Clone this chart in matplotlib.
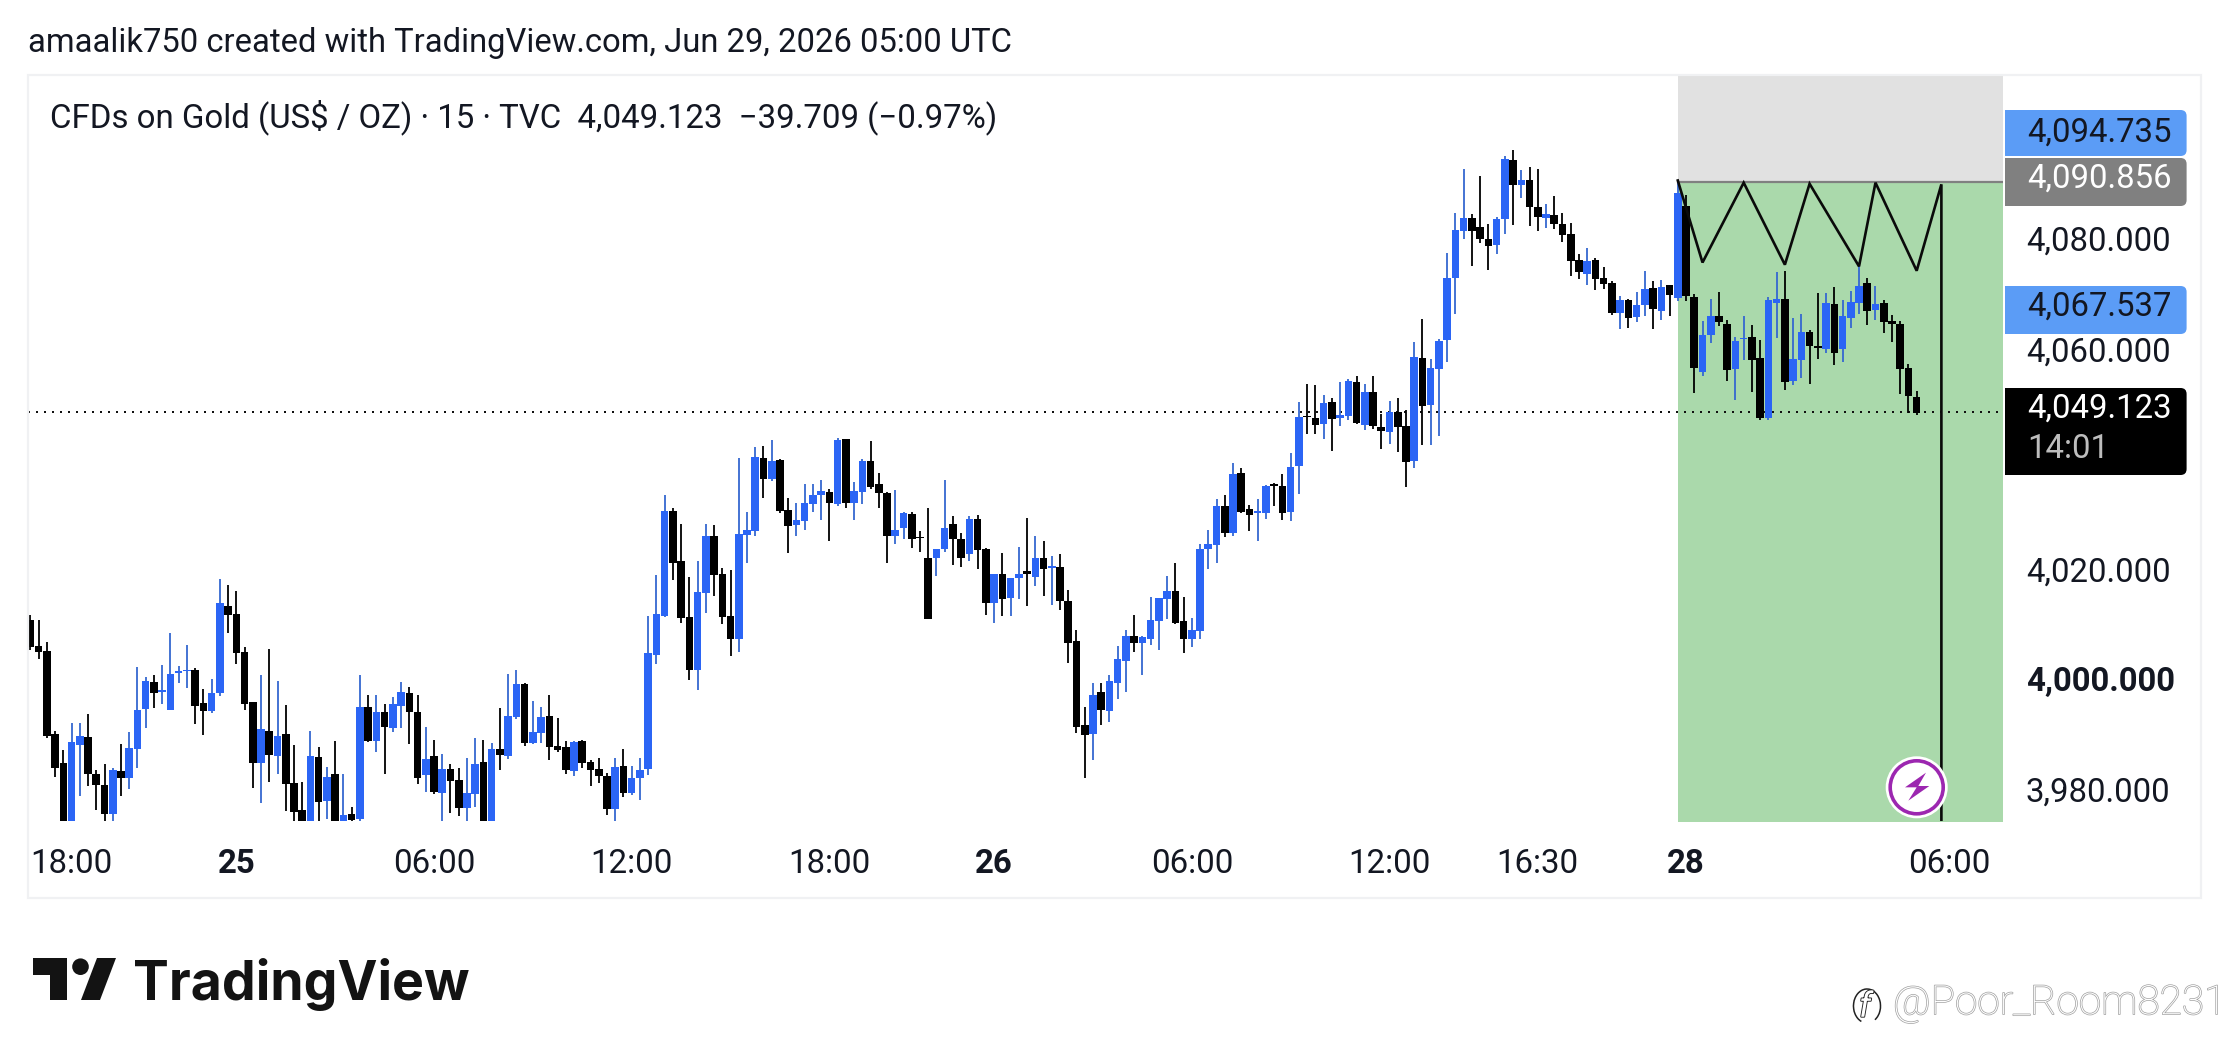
#!/usr/bin/env python3
"""TradingView snapshot of CFDs on Gold, 15 min candles, with a drawn range box."""
import matplotlib
matplotlib.use("Agg")
import matplotlib.pyplot as plt
import numpy as np
from matplotlib.patches import Arc, Circle, FancyBboxPatch, Polygon, Rectangle
from matplotlib.transforms import ScaledTranslation
import matplotlib.patheffects as pe

plt.rcParams["font.family"] = ["Roboto", "DejaVu Sans"]

W, H = 2229, 1063
BLUE = "#2B65F5"
BLUE_WICK = "#3568D0"
BLACK = "#000000"

# u = up (blue), d = down (black), 10 candles per chunk
DIRECTION = (
    "ddddduuddd" "uduuuduuuu" "dduuddddud" "udddududud" "ududuuddud"
    "udduududuu" "duuddduddd" "duduuuuudd" "duuddduuud" "udduuuudud"
    "uuddduuddd" "uudduddudu" "udududdddu" "duuuduuuud" "duuuududdu"
    "udduuddudu" "ududduddud" "uuuuuddduu" "dudduddddu" "ddduduudud"
    "udduudduud" "duuduuddud" "uuududdddd"
)

HIGHS = [
    4012.2, 4011.3, 4007.2, 3991.1, 3987.7, 3992.6, 3992.6, 3994.2, 3984.1, 3985.1,
    3984.3, 3988.7, 3990.9, 4002.7, 4000.9, 4001.3, 4003.1, 4008.9, 4002.9, 4006.7,
    4002.6, 3998.7, 4000.6, 4018.7, 4017.7, 4016.6, 4006.4, 3996.4, 4001.3, 4006.0,
    4000.2, 3995.8, 3988.6, 3981.8, 3991.1, 3988.2, 3984.6, 3989.3, 3983.3, 3977.3,
    4001.3, 3997.7, 3997.7, 3996.0, 3997.3, 4000.0, 3999.1, 3997.7, 3991.8, 3989.5,
    3986.9, 3985.1, 3984.4, 3986.2, 3989.8, 3989.5, 3988.9, 3995.3, 4001.5, 4002.2,
    3999.8, 3996.6, 3995.5, 3997.7, 3993.5, 3989.3, 3989.3, 3989.5, 3985.8, 3986.2,
    3983.5, 3986.2, 3987.8, 3984.7, 3986.2, 4012.0, 4019.5, 4033.9, 4031.6, 4028.7,
    4019.0, 4021.9, 4028.7, 4028.5, 4020.7, 4020.3, 4040.7, 4030.8, 4042.7, 4042.8,
    4043.9, 4040.5, 4033.4, 4032.5, 4035.9, 4035.9, 4036.7, 4035.1, 4044.3, 4044.1,
    4036.3, 4040.5, 4043.7, 4037.9, 4034.5, 4034.8, 4030.8, 4030.8, 4027.4, 4031.6,
    4024.1, 4036.7, 4030.1, 4027.0, 4030.1, 4030.3, 4024.3, 4019.7, 4023.4, 4018.8,
    4024.5, 4029.7, 4026.5, 4025.7, 4022.8, 4023.2, 4016.7, 4009.4, 3995.4, 3999.9,
    3999.9, 4001.2, 4006.5, 4009.4, 4012.1, 4008.3, 4015.4, 4015.2, 4019.2, 4021.6,
    4015.4, 4011.7, 4025.0, 4027.7, 4033.2, 4033.9, 4039.7, 4038.8, 4032.1, 4033.2,
    4035.7, 4036.1, 4037.7, 4041.6, 4050.9, 4054.1, 4054.0, 4052.1, 4051.6, 4054.5,
    4055.0, 4055.6, 4054.1, 4055.6, 4048.7, 4051.0, 4051.6, 4049.4, 4061.8, 4066.0,
    4058.7, 4062.3, 4078.0, 4085.2, 4093.2, 4085.0, 4092.0, 4083.2, 4084.5, 4095.6,
    4096.7, 4093.0, 4093.6, 4093.2, 4086.9, 4088.3, 4085.2, 4083.4, 4077.8, 4078.9,
    4077.0, 4075.4, 4072.9, 4070.1, 4069.6, 4070.9, 4074.7, 4072.9, 4073.0, 4072.1,
    4091.2, 4088.5, 4070.5, 4065.6, 4069.6, 4070.9, 4065.8, 4062.7, 4066.4, 4064.9,
    4062.2, 4070.0, 4074.4, 4074.7, 4066.2, 4066.9, 4064.0, 4070.7, 4070.7, 4071.8,
    4069.4, 4071.1, 4075.8, 4073.4, 4072.0, 4069.4, 4066.7, 4065.5, 4057.8, 4052.9,
]

LOWS = [
    4005.8, 4004.2, 3989.9, 3982.8, 3974, 3974, 3979.2, 3981.1, 3976.8, 3974,
    3974, 3979.3, 3980.6, 3984.4, 3991.7, 3995.3, 3996.0, 3994.9, 3999.8, 3998.9,
    3992.4, 3990.4, 3994.4, 3997.5, 4008.9, 4003.3, 3994.9, 3980.7, 3978.0, 3981.8,
    3983.3, 3976.6, 3974, 3974, 3974, 3974, 3975.1, 3974, 3974, 3974.7,
    3974.8, 3989.1, 3987.3, 3983.3, 3990.9, 3991.7, 3988.7, 3981.5, 3980.0, 3979.7,
    3974, 3976.2, 3975.7, 3974, 3977.3, 3974, 3974, 3984.0, 3986.0, 3993.3,
    3988.4, 3988.7, 3988.9, 3985.8, 3987.3, 3983.3, 3982.9, 3984.4, 3981.1, 3981.7,
    3975.8, 3974, 3979.1, 3979.5, 3978.6, 3983.1, 4003.3, 4011.8, 4018.5, 4010.7,
    4000.3, 3998.5, 4012.5, 4015.6, 4010.5, 4004.7, 4005.4, 4021.6, 4026.5, 4033.4,
    4036.5, 4030.7, 4023.4, 4026.5, 4027.6, 4030.8, 4029.4, 4025.7, 4031.9, 4031.6,
    4029.4, 4032.3, 4035.0, 4031.6, 4021.6, 4025.0, 4025.9, 4024.3, 4023.7, 4011.4,
    4019.2, 4023.7, 4021.2, 4020.8, 4021.9, 4020.5, 4012.1, 4010.8, 4011.9, 4011.9,
    4015.0, 4013.8, 4017.4, 4015.7, 4013.9, 4013.0, 4003.4, 3990.7, 3982.5, 3985.9,
    3992.1, 3992.7, 3997.0, 3998.1, 4005.4, 4001.2, 4006.7, 4005.9, 4011.4, 4010.5,
    4005.2, 4006.3, 4007.9, 4020.5, 4021.6, 4026.3, 4026.5, 4030.7, 4027.4, 4025.6,
    4029.6, 4031.9, 4029.4, 4029.2, 4034.1, 4045.0, 4045.0, 4044.1, 4042.0, 4046.5,
    4047.6, 4046.9, 4045.8, 4046.0, 4042.3, 4043.2, 4041.8, 4035.4, 4038.9, 4043.0,
    4043.0, 4044.7, 4058.1, 4066.9, 4080.5, 4075.6, 4079.8, 4074.9, 4077.8, 4081.4,
    4083.0, 4088.0, 4082.9, 4082.0, 4082.5, 4082.3, 4080.0, 4073.8, 4073.2, 4072.1,
    4071.2, 4071.4, 4066.7, 4064.1, 4064.3, 4065.4, 4066.5, 4064.1, 4065.8, 4066.5,
    4069.2, 4069.2, 4052.5, 4055.6, 4061.6, 4064.7, 4054.7, 4051.3, 4058.5, 4052.7,
    4047.6, 4047.6, 4062.4, 4053.1, 4054.0, 4055.3, 4054.2, 4058.7, 4059.8, 4057.6,
    4058.2, 4064.3, 4066.9, 4064.9, 4065.8, 4063.4, 4061.8, 4052.4, 4048.9, 4048.5,
]

BODY_TOP = [
    4011.2, 4006.6, 4005.7, 3990.6, 3985.3, 3989.1, 3990.2, 3990.0, 3983.3, 3981.3,
    3984.0, 3983.8, 3988.0, 3994.9, 4000.2, 4000.0, 3998.5, 4001.5, 4002.0, 4002.2,
    4002.2, 3996.2, 3998.0, 4014.4, 4013.8, 4012.4, 4005.5, 3996.4, 3991.5, 3991.1,
    3990.2, 3990.6, 3981.7, 3976.8, 3986.6, 3986.4, 3982.7, 3983.3, 3975.8, 3976.0,
    3995.5, 3995.5, 3994.6, 3994.6, 3996.0, 3998.2, 3998.0, 3994.6, 3986.0, 3986.6,
    3984.2, 3984.2, 3982.2, 3979.8, 3985.1, 3985.5, 3987.8, 3987.8, 3993.8, 3999.7,
    3999.7, 3990.9, 3993.7, 3993.8, 3988.4, 3988.2, 3989.1, 3989.3, 3985.5, 3984.2,
    3982.9, 3984.6, 3984.7, 3982.6, 3984.0, 4005.3, 4012.4, 4031.0, 4031.0, 4021.9,
    4011.8, 4016.3, 4026.5, 4026.5, 4019.7, 4011.9, 4026.8, 4027.6, 4040.8, 4040.7,
    4040.1, 4040.3, 4031.2, 4029.4, 4032.5, 4033.9, 4034.7, 4034.5, 4043.9, 4044.1,
    4034.7, 4040.1, 4040.1, 4035.9, 4034.3, 4027.6, 4030.7, 4030.5, 4026.3, 4022.6,
    4024.1, 4027.9, 4028.7, 4025.9, 4029.6, 4029.6, 4024.1, 4019.7, 4019.6, 4018.8,
    4019.7, 4020.1, 4022.5, 4022.6, 4021.0, 4020.8, 4014.7, 4007.4, 3992.1, 3997.6,
    3998.1, 4000.1, 4004.1, 4008.3, 4008.3, 4008.1, 4011.2, 4015.2, 4016.5, 4016.5,
    4011.0, 4009.4, 4024.1, 4025.0, 4031.9, 4031.9, 4037.7, 4037.9, 4031.4, 4031.0,
    4035.6, 4035.9, 4035.6, 4039.0, 4048.1, 4048.4, 4048.0, 4050.7, 4050.9, 4048.5,
    4054.7, 4054.5, 4052.7, 4052.7, 4046.3, 4049.0, 4049.0, 4046.5, 4059.0, 4058.9,
    4057.0, 4062.0, 4073.4, 4082.1, 4084.3, 4084.3, 4082.7, 4080.5, 4084.1, 4095.0,
    4094.9, 4091.2, 4091.2, 4086.3, 4085.0, 4084.9, 4083.2, 4081.4, 4076.7, 4076.5,
    4076.7, 4073.4, 4072.5, 4069.4, 4069.4, 4068.5, 4071.4, 4071.6, 4071.8, 4072.1,
    4088.9, 4086.5, 4070.0, 4063.1, 4066.4, 4066.4, 4065.1, 4062.0, 4062.5, 4062.7,
    4058.9, 4069.4, 4069.6, 4069.6, 4058.7, 4063.5, 4063.6, 4061.1, 4068.9, 4068.7,
    4066.4, 4069.1, 4072.0, 4072.4, 4068.6, 4068.9, 4065.6, 4065.1, 4057.1, 4051.8,
]

BODY_BOTTOM = [
    4006.4, 4005.5, 3990.1, 3984.3, 3974, 3974, 3988.6, 3983.3, 3981.3, 3976.0,
    3976.0, 3982.6, 3982.6, 3987.8, 3995.1, 3998.0, 3998.1, 3994.9, 4001.7, 4002.0,
    3995.7, 3994.7, 3994.7, 3998.0, 4012.2, 4005.3, 3996.0, 3985.3, 3985.3, 3986.7,
    3986.6, 3981.5, 3976.4, 3974, 3974, 3978.2, 3978.4, 3974, 3974, 3974.9,
    3975.1, 3989.3, 3989.3, 3991.8, 3991.7, 3995.7, 3994.6, 3982.6, 3983.1, 3980.0,
    3979.8, 3982.0, 3977.1, 3977.1, 3979.7, 3974, 3974, 3986.7, 3986.6, 3993.7,
    3988.9, 3988.9, 3990.7, 3988.2, 3987.7, 3984.0, 3983.8, 3985.3, 3984.0, 3982.9,
    3976.9, 3976.9, 3979.8, 3979.8, 3982.6, 3984.2, 4004.9, 4011.9, 4021.7, 4011.6,
    4002.1, 4002.1, 4016.1, 4019.4, 4011.8, 4007.8, 4007.8, 4026.7, 4027.4, 4036.8,
    4036.8, 4031.0, 4028.3, 4028.5, 4029.2, 4032.3, 4033.9, 4032.5, 4032.3, 4032.5,
    4032.5, 4034.5, 4035.4, 4034.3, 4026.5, 4026.5, 4027.9, 4025.9, 4026.1, 4011.4,
    4022.6, 4024.1, 4025.9, 4022.6, 4023.2, 4023.9, 4014.3, 4014.3, 4015.0, 4015.2,
    4018.8, 4019.6, 4019.0, 4020.5, 4020.7, 4014.8, 4007.0, 3991.9, 3990.3, 3990.5,
    3995.0, 3994.7, 3999.9, 4003.9, 4007.0, 4007.0, 4007.9, 4011.0, 4015.0, 4010.7,
    4007.8, 4007.8, 4009.2, 4024.1, 4024.8, 4027.0, 4027.0, 4030.8, 4030.3, 4030.7,
    4030.7, 4035.6, 4030.7, 4030.8, 4039.2, 4048.2, 4046.7, 4046.9, 4047.8, 4048.0,
    4048.3, 4047.0, 4046.7, 4046.5, 4045.6, 4045.4, 4046.3, 4040.0, 4040.1, 4050.1,
    4050.3, 4056.9, 4062.1, 4073.4, 4082.0, 4082.0, 4080.5, 4079.2, 4079.4, 4084.1,
    4090.3, 4090.3, 4086.3, 4084.5, 4084.3, 4083.2, 4081.2, 4076.5, 4074.5, 4074.1,
    4073.2, 4072.3, 4067.0, 4067.0, 4066.1, 4066.3, 4068.5, 4067.8, 4067.4, 4070.3,
    4069.8, 4070.1, 4057.1, 4056.4, 4063.1, 4065.4, 4056.7, 4056.9, 4062.3, 4058.5,
    4048.0, 4048.0, 4068.9, 4054.5, 4054.7, 4058.5, 4061.1, 4060.7, 4060.4, 4059.8,
    4060.4, 4066.2, 4068.9, 4067.4, 4067.6, 4065.4, 4065.0, 4056.9, 4052.0, 4048.9,
]

# drawn polyline on top of the range box
ZIGZAG_X = [200, 203, 208, 213, 216, 222, 224, 229, 232, 232]
ZIGZAG_Y = [4091.1, 4076.2, 4090.7, 4075.8, 4090.5, 4075.5, 4090.7, 4074.7, 4090.4, 3970]

BOX_START = 200
BOX_TOP = 4090.856
LAST_PRICE = 4049.123

XTICKS = [5, 25, 49, 73, 97, 117, 141, 165, 183, 201, 233]
XLABELS = ["18:00", "25", "06:00", "12:00", "18:00", "26", "06:00", "12:00", "16:30", "28", "06:00"]
XBOLD = ["25", "26", "28"]
YTICKS = [3980, 4000, 4020, 4060, 4080]
YLABELS = ["3,980.000", "4,000.000", "4,020.000", "4,060.000", "4,080.000"]

HEADER = "amaalik750 created with TradingView.com, Jun 29, 2026 05:00 UTC"
LEGEND = "CFDs on Gold (US$ / OZ) · 15 · TVC  4,049.123  −39.709 (−0.97%)"


def price_tag(cv, y0, y1, color):
    # rounded on the right, square where it meets the pane
    cv.add_patch(FancyBboxPatch((2012, y0 + 6), 168.6, y1 - y0 - 12,
                                boxstyle="round,pad=6,rounding_size=6",
                                fc=color, ec="none"))
    cv.add_patch(Rectangle((2005, y0), 30, y1 - y0, fc=color, ec="none"))


fig = plt.figure(figsize=(W / 100, H / 100), dpi=100, facecolor="white")

ax = fig.add_axes([28 / W, 1 - 820.5 / H, (2003 - 28) / W, (820.5 - 75) / H])
ax.set_xlim(-0.29, 239.48)
ax.set_ylim(3974.84, 4110.26)
for s in ax.spines.values():
    s.set_visible(False)

# range box
right = ax.get_xlim()[1]
ax.fill_between([BOX_START, right], 3960, BOX_TOP, color="#AAD9AB", lw=0, zorder=1)
ax.fill_between([BOX_START, right], BOX_TOP, 4120, color="#E1E1E1", lw=0, zorder=1)
ax.plot([BOX_START, right], [BOX_TOP, BOX_TOP], color="#808080", lw=1.6, zorder=1.5)

ax.axhline(LAST_PRICE, color="#111111", lw=1.44, ls=(0, (1, 3)), zorder=2)

x = np.arange(len(HIGHS))
up = np.array([c == "u" for c in DIRECTION])
top = np.array(BODY_TOP)
bottom = np.array(BODY_BOTTOM)
ax.vlines(x[up], np.array(LOWS)[up], np.array(HIGHS)[up], color=BLUE_WICK, lw=1.3, zorder=3)
ax.vlines(x[~up], np.array(LOWS)[~up], np.array(HIGHS)[~up], color=BLACK, lw=1.3, zorder=3)
ax.bar(x, top - bottom, bottom=bottom, width=0.92,
       color=[BLUE if u else BLACK for u in up], lw=0, zorder=4)

ax.plot(ZIGZAG_X, ZIGZAG_Y, color="#0A0A0A", lw=1.9, zorder=5, solid_joinstyle="miter")

ax.set_xticks(XTICKS, XLABELS, fontsize=23.8, color="#131722")
for lab in ax.get_xticklabels():
    if lab.get_text() in XBOLD:
        lab.set_fontweight("bold")
ax.yaxis.tick_right()
ax.set_yticks(YTICKS, YLABELS, fontsize=23.7, color="#131722")
ax.tick_params(axis="x", length=0, pad=20)
ax.tick_params(axis="y", length=0, pad=16.5)
# has to come after tick_params, which resets the label transforms
nudge = ScaledTranslation(0, 3 / 100, fig.dpi_scale_trans)
for lab in ax.get_yticklabels():
    lab.set_transform(lab.get_transform() + nudge)
    if lab.get_text() == "4,000.000":
        lab.set_fontweight("bold")

# overlay in image pixels for the furniture around the chart
cv = fig.add_axes([0, 0, 1, 1], facecolor="none")
cv.set_xlim(0, W)
cv.set_ylim(H, 0)
cv.axis("off")

cv.add_patch(Rectangle((28, 75), 2201 - 28, 897.5 - 75, fc="none", ec="#F0F1F3", lw=1.6))

cv.text(28, 43, HEADER, fontsize=23.6, color="#131722", va="center")
cv.text(50, 117, LEGEND, fontsize=23.8, color="#131722", va="center")

# price tags
price_tag(cv, 110, 156, "#5B9CF6")
price_tag(cv, 158, 206, "#808080")
price_tag(cv, 286, 334, "#5B9CF6")
price_tag(cv, 388, 475, "#000000")
tag_font = dict(fontsize=23.7, ha="left", va="center")
cv.text(2027, 133, "4,094.735", color="#131722", **tag_font)
cv.text(2027, 179, "4,090.856", color="#FFFFFF", **tag_font)
cv.text(2027, 307, "4,067.537", color="#131722", **tag_font)
cv.text(2027, 409, "4,049.123", color="#FFFFFF", **tag_font)
cv.text(2027, 449, "14:01", color="#BDBDBD", **tag_font)

# lightning badge
cv.add_patch(Circle((1916.7, 787.3), 31, fc="white", ec="none"))
cv.add_patch(Circle((1916.7, 787.3), 26.5, fc="white", ec="#9C27B0", lw=2.6))
bolt = np.array([[228, 218], [165, 262], [200, 262], [175, 302], [238, 258], [205, 258]])
cv.add_patch(Polygon(bolt / 3 + [1850, 700], fc="#9C27B0", ec="none"))

# TradingView mark + wordmark
mark = [[33, 958], [67, 958], [67, 1000], [50, 1000], [50, 975], [33, 975]]
cv.add_patch(Polygon(mark, fc="#131313", ec="none"))
cv.add_patch(Circle((80.5, 966.7), 8.3, fc="#131313", ec="none"))
cv.add_patch(Polygon([[97, 958], [116, 958], [100, 1000], [81, 1000]], fc="#131313", ec="none"))
cv.text(133, 1000, "TradingView", fontsize=38.6, color="#131313", family="Inter",
        fontweight="bold", va="baseline")

# watermark
halo = [pe.withStroke(linewidth=1.0, foreground="#A0A0A0")]
cv.text(1893, 1003, "@Poor_Room8231", fontsize=29.2, color="white", va="center",
        fontweight="light", path_effects=halo)
cv.text(1865, 1007, "f", fontsize=25, color="white", style="italic", ha="center", va="center",
        path_effects=[pe.withStroke(linewidth=1.3, foreground="#222222")])
cv.add_patch(Arc((1867, 1006), 27, 34, theta1=-250, theta2=60, ec="#222222", lw=1.1))

fig.savefig("out.png", dpi=100)
